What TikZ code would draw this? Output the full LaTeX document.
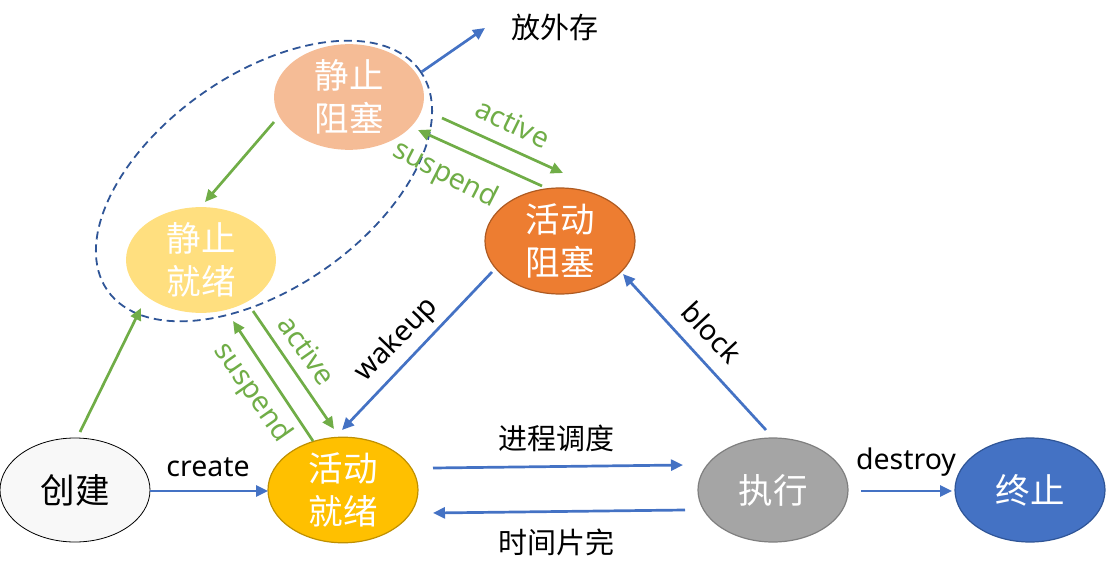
\documentclass[tikz,border=0pt]{standalone}
\usepackage{fontspec}
\setmainfont{Noto Sans CJK SC}
\newfontfamily\lat{Noto Sans}
\usetikzlibrary{shapes.geometric,arrows.meta}
\definecolor{cblue}{HTML}{4472C4}
\definecolor{cgreen}{HTML}{70AD47}
\definecolor{cdash}{HTML}{2F5597}
\definecolor{cgold}{HTML}{FFC000}
\definecolor{cgoldd}{HTML}{BF9000}
\definecolor{cgray}{HTML}{A5A5A5}
\definecolor{cgrayd}{HTML}{7F7F7F}
\definecolor{corange}{HTML}{ED7D31}
\definecolor{coranged}{HTML}{AE5A21}
\definecolor{clorange}{HTML}{F5BC96}
\definecolor{clyellow}{HTML}{FFDF7F}
\definecolor{cwhite}{HTML}{F8F8F8}
\begin{document}
\begin{tikzpicture}[x=1pt,y=-1pt,
  st/.style={ellipse, minimum width=150pt, minimum height=104pt, inner sep=0pt,
    align=center, font=\fontsize{34.5}{43}\selectfont, text=white, line width=1.2pt},
  barr/.style={draw=cblue, line width=2.7pt, -{Triangle[length=12pt,width=11pt]}},
  garr/.style={draw=cgreen, line width=2.7pt, -{Triangle[length=12pt,width=11pt]}},
  lab/.style={font=\lat\fontsize{28.5}{30}\selectfont, inner sep=0pt},
  glab/.style={lab, text=cgreen},
  clab/.style={font=\fontsize{29}{30}\selectfont, inner sep=0pt}]
\useasboundingbox (0,0) rectangle (1106,575);

% states
\node[st, fill=cwhite, draw=black, text=black, line width=0.8pt] (cj) at (75,490) {创建};
\node[st, fill=cgold, draw=cgoldd] (hj) at (343,490) {活动\\就绪};
\node[st, fill=cgray, draw=cgrayd] (zx) at (773,490) {执行};
\node[st, fill=cblue, draw=cdash] (zz) at (1030,490) {终止};
\node[st, fill=corange, draw=coranged, minimum height=106pt] (hz) at (560,241) {活动\\阻塞};
\node[st, fill=clorange] (jz) at (349,97) {静止\\阻塞};
\node[st, fill=clyellow] (jj) at (201,260) {静止\\就绪};

% group of suspended states
\node[ellipse, draw=cdash, line width=1.8pt, dash pattern=on 8pt off 5pt,
  minimum width=382pt, minimum height=214pt, rotate=35] (grp) at (264,181) {};

% swap-out
\node[clab] (fwc) at (555,27) {放外存};
\coordinate (fwtip) at (485,28);
\draw[barr] (grp) -- (fwtip);

% green transitions
\draw[garr] ([shift={(-75,25)}]jz.center) -- ([shift={(4,-58)}]jj.center);
\draw[garr] ([shift={(5,-58)}]cj.center) -- ([shift={(-60,48)}]jj.center);
\draw[garr] ([shift={(93,21)}]jz.center) -- ([shift={(3,-68)}]hz.center);
\draw[garr] ([shift={(-18,-55)}]hz.center) -- ([shift={(69,33)}]jz.center);
\draw[garr] ([shift={(52,51)}]jj.center) -- ([shift={(-9,-61)}]hj.center);
\draw[garr] ([shift={(-30,-49)}]hj.center) -- ([shift={(32,61)}]jj.center);

\node[glab, rotate=-26] (la1) at (513,123) {active};
\node[glab, rotate=-27] (ls1) at (445,175) {suspend};
\node[glab, rotate=-55] (la2) at (307,350) {active};
\node[glab, rotate=-55] (ls2) at (252,393) {suspend};

% blue transitions
\draw[barr] ([shift={(-68,31)}]hz.center) -- ([shift={(-1,-60)}]hj.center);
\draw[barr] ([shift={(-7,-60)}]zx.center) -- ([shift={(63,33)}]hz.center);
\draw[barr] ([shift={(90,-22)}]hj.center) -- ([shift={(-90,-25)}]zx.center);
\draw[barr] ([shift={(-88,20)}]zx.center) -- ([shift={(90,23)}]hj.center);
\draw[barr] ([shift={(75,1)}]cj.center) -- ([shift={(-75,1)}]hj.center);
\draw[barr] ([shift={(88,1)}]zx.center) -- ([shift={(-78,1)}]zz.center);

\node[lab, rotate=46] (lw) at (397,340) {wakeup};
\node[lab, rotate=-47] (lb) at (712,332) {block};
\node[lab] (lc) at (208,467) {create};
\node[lab] (ld) at (906,462) {destroy};
\node[clab] (lsch) at (556,438) {进程调度};
\node[clab] (ltm) at (556,542) {时间片完};
\end{tikzpicture}
\end{document}
